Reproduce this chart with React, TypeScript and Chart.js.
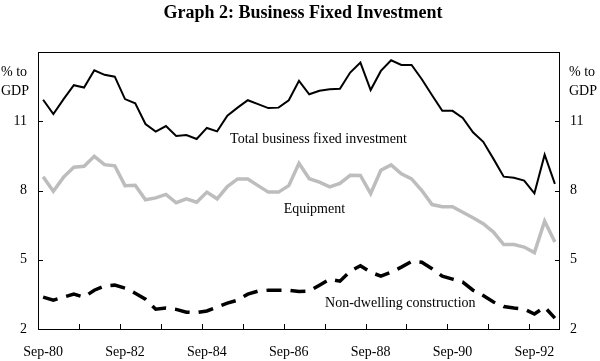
import { useEffect, useRef } from 'react';
import { Chart, registerables } from 'chart.js';

Chart.register(...registerables);

const quarters = [
  'Sep-80', 'Dec-80', 'Mar-81', 'Jun-81', 'Sep-81', 'Dec-81', 'Mar-82', 'Jun-82',
  'Sep-82', 'Dec-82', 'Mar-83', 'Jun-83', 'Sep-83', 'Dec-83', 'Mar-84', 'Jun-84',
  'Sep-84', 'Dec-84', 'Mar-85', 'Jun-85', 'Sep-85', 'Dec-85', 'Mar-86', 'Jun-86',
  'Sep-86', 'Dec-86', 'Mar-87', 'Jun-87', 'Sep-87', 'Dec-87', 'Mar-88', 'Jun-88',
  'Sep-88', 'Dec-88', 'Mar-89', 'Jun-89', 'Sep-89', 'Dec-89', 'Mar-90', 'Jun-90',
  'Sep-90', 'Dec-90', 'Mar-91', 'Jun-91', 'Sep-91', 'Dec-91', 'Mar-92', 'Jun-92',
  'Sep-92', 'Dec-92', 'Mar-93',
];

const totalInvestment = [
  11.93, 11.31, 11.96, 12.56, 12.46, 13.21, 13.01, 12.93,
  11.96, 11.78, 10.88, 10.55, 10.79, 10.36, 10.40, 10.23,
  10.71, 10.56, 11.24, 11.59, 11.91, 11.74, 11.57, 11.59,
  11.91, 12.75, 12.17, 12.32, 12.39, 12.41, 13.11, 13.54,
  12.35, 13.18, 13.64, 13.44, 13.44, 12.82, 12.13, 11.45,
  11.45, 11.14, 10.52, 10.11, 9.37, 8.60, 8.55, 8.43,
  7.88, 9.55, 8.29,
];

const equipment = [
  8.60, 7.97, 8.58, 9.01, 9.05, 9.48, 9.12, 9.07,
  8.21, 8.23, 7.60, 7.68, 7.83, 7.47, 7.64, 7.49,
  7.93, 7.64, 8.17, 8.50, 8.50, 8.21, 7.93, 7.93,
  8.21, 9.18, 8.51, 8.36, 8.16, 8.31, 8.66, 8.65,
  7.87, 8.88, 9.11, 8.72, 8.50, 8.00, 7.39, 7.30,
  7.30, 7.06, 6.82, 6.56, 6.20, 5.66, 5.66, 5.55,
  5.31, 6.67, 5.77,
];

const nonDwelling = [
  3.38, 3.25, 3.38, 3.51, 3.38, 3.68, 3.86, 3.90,
  3.77, 3.55, 3.29, 2.86, 2.91, 2.85, 2.73, 2.71,
  2.78, 2.95, 3.12, 3.25, 3.51, 3.64, 3.68, 3.68,
  3.68, 3.62, 3.64, 3.90, 4.16, 4.07, 4.50, 4.74,
  4.46, 4.29, 4.46, 4.68, 4.93, 4.89, 4.61, 4.29,
  4.16, 4.03, 3.68, 3.45, 3.17, 2.97, 2.91, 2.86,
  2.65, 2.95, 2.47,
];

const yTickValues = [2, 5, 8, 11];
const xTickLabels = ['Sep-80', 'Sep-82', 'Sep-84', 'Sep-86', 'Sep-88', 'Sep-90', 'Sep-92'];
const title = 'Graph 2: Business Fixed Investment';
const unitLines = ['% to', 'GDP'];
const seriesNames = ['Total business fixed investment', 'Equipment', 'Non-dwelling construction'];

const FONT = "'Liberation Serif', 'Times New Roman', serif";

const toPoints = (vals: number[]) => vals.map((v, i) => ({ x: i + 0.5, y: v }));

export default function App() {
  const ref = useRef<HTMLCanvasElement | null>(null);

  useEffect(() => {
    document.body.style.margin = '0';
    const canvas = ref.current;
    if (!canvas) return;

    const decor = {
      id: 'decor',
      afterDraw(chart: any) {
        const ctx = chart.ctx;
        const a = chart.chartArea;
        const xs = chart.scales.x;
        const ys = chart.scales.y;
        ctx.save();
        // frame
        ctx.strokeStyle = '#000';
        ctx.lineWidth = 1;
        ctx.strokeRect(Math.round(a.left) + 0.5, Math.round(a.top) + 0.5, Math.round(a.right - a.left) - 1, Math.round(a.bottom - a.top));
        // x tick marks (year boundaries)
        ctx.beginPath();
        quarters.forEach((q, i) => {
          if (q.startsWith('Sep') && i > 0) {
            const px = Math.round(xs.getPixelForValue(i)) + 0.5;
            ctx.moveTo(px, a.bottom);
            ctx.lineTo(px, a.bottom - 5);
          }
        });
        // y tick marks inside on both sides
        yTickValues.forEach((v) => {
          if (v === 2) return;
          const py = Math.round(ys.getPixelForValue(v)) + 0.5;
          ctx.moveTo(a.left, py);
          ctx.lineTo(a.left + 5, py);
          ctx.moveTo(a.right, py);
          ctx.lineTo(a.right - 5, py);
        });
        ctx.stroke();

        ctx.fillStyle = '#000';
        // title
        ctx.font = `bold 18px ${FONT}`;
        ctx.textAlign = 'center';
        ctx.textBaseline = 'middle';
        ctx.fillText(title, 303, 13);
        // unit labels
        ctx.font = `14px ${FONT}`;
        ctx.textAlign = 'left';
        ctx.fillText(unitLines[0], 1, 72);
        ctx.fillText(unitLines[1], 1, 91);
        ctx.fillText(unitLines[0], 569, 72);
        ctx.fillText(unitLines[1], 569, 91);
        // series labels
        ctx.textAlign = 'center';
        ctx.fillText(seriesNames[0], xs.getPixelForValue(27.4), ys.getPixelForValue(10.2));
        ctx.fillText(seriesNames[1], xs.getPixelForValue(27.0), ys.getPixelForValue(7.2));
        ctx.fillText(seriesNames[2], xs.getPixelForValue(35.4), ys.getPixelForValue(3.13));
        ctx.restore();
      },
    };

    const yAxis = (position: 'left' | 'right', width: number, padding: number) => ({
      type: 'linear' as const,
      position,
      min: 2,
      max: 14,
      grid: { display: false, drawTicks: false },
      border: { display: false },
      afterBuildTicks: (axis: any) => {
        axis.ticks = yTickValues.map((v) => ({ value: v }));
      },
      afterFit: (axis: any) => {
        axis.width = width;
      },
      ticks: {
        padding,
        color: '#000',
        font: { family: FONT, size: 14 },
        callback: (v: any) => String(v),
      },
    });

    const chart = new Chart(canvas, {
      type: 'line',
      data: {
        datasets: [
          {
            label: seriesNames[0],
            data: toPoints(totalInvestment),
            borderColor: '#000',
            borderWidth: 2,
            pointRadius: 0,
            tension: 0,
            yAxisID: 'y',
          },
          {
            label: seriesNames[1],
            data: toPoints(equipment),
            borderColor: '#bdbdbd',
            borderWidth: 3.5,
            pointRadius: 0,
            tension: 0,
            yAxisID: 'y',
          },
          {
            label: seriesNames[2],
            data: toPoints(nonDwelling),
            borderColor: '#000',
            borderWidth: 3.5,
            borderDash: [15, 9],
            pointRadius: 0,
            tension: 0,
            yAxisID: 'y',
          },
        ],
      },
      options: {
        responsive: false,
        animation: false,
        layout: { padding: { top: 52, left: 0, right: 0, bottom: 0 } },
        plugins: {
          legend: { display: false },
          tooltip: { enabled: false },
          title: { display: false },
        },
        scales: {
          x: {
            type: 'linear',
            min: 0,
            max: quarters.length,
            grid: { display: false, drawTicks: false },
            border: { display: false },
            afterBuildTicks: (axis: any) => {
              axis.ticks = xTickLabels.map((l) => ({ value: quarters.indexOf(l) + 0.5 }));
            },
            afterFit: (axis: any) => {
              axis.height = 32;
            },
            ticks: {
              padding: 15,
              autoSkip: false,
              maxRotation: 0,
              color: '#000',
              font: { family: FONT, size: 14 },
              callback: (v: any) => quarters[Math.floor(Number(v))],
            },
          },
          y: yAxis('left', 38, 11),
          y2: yAxis('right', 40, 10),
        },
      },
      plugins: [decor],
    });

    return () => chart.destroy();
  }, []);

  return <canvas ref={ref} width={600} height={361} style={{ display: 'block' }} />;
}
